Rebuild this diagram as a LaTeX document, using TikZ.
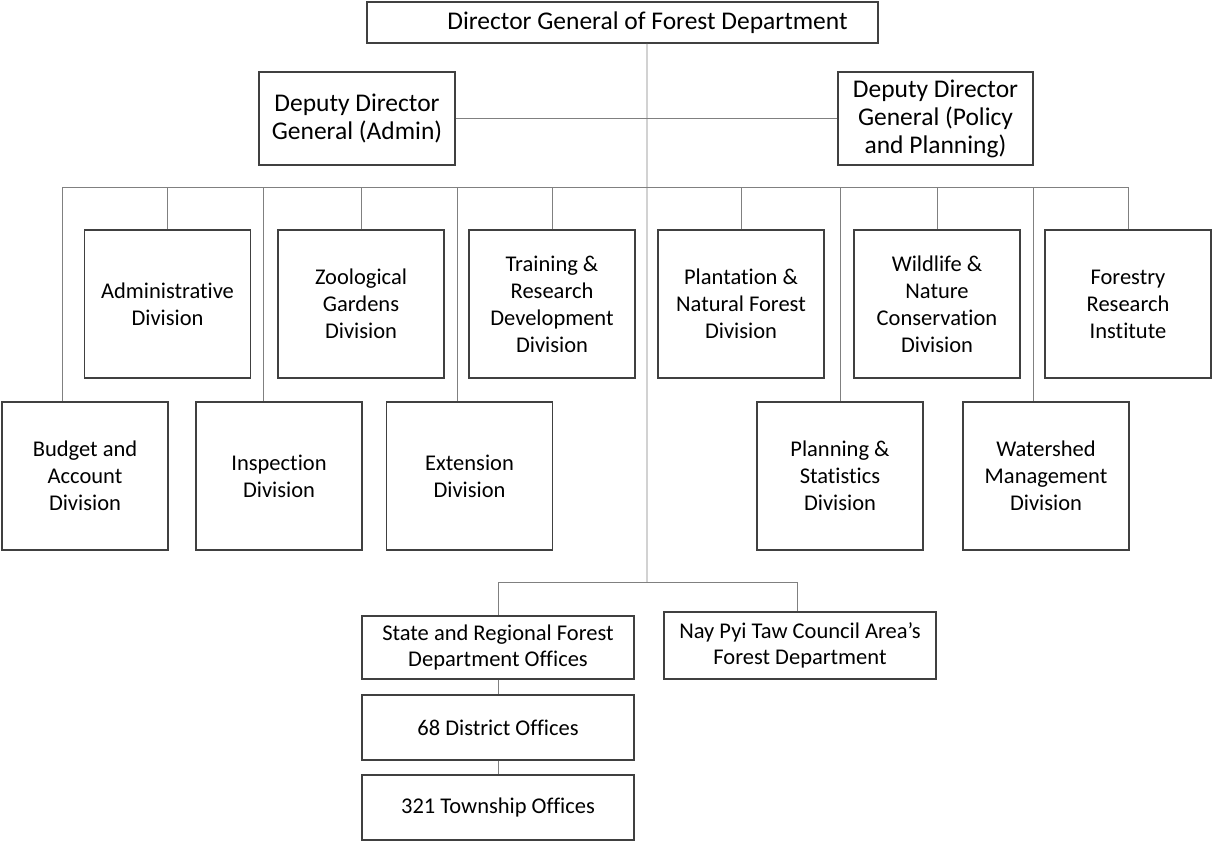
\documentclass[tikz,border=0pt]{standalone}
\usepackage{fontspec}
\setmainfont[Ligatures=NoCommon]{Carlito}
\begin{document}
\begin{tikzpicture}[x=1bp,y=-1bp,
  box/.style={draw=black!75, line width=1.3bp, fill=white, align=center, inner sep=0pt, text=black},
  div/.style={box, minimum width=166bp, minimum height=148bp, font=\fontsize{22.5bp}{27bp}\selectfont},
  low/.style={box, minimum width=272bp, font=\fontsize{22.5bp}{26bp}\selectfont},
  conn/.style={draw=black!50, line width=0.9bp}]
\useasboundingbox (0,0) rectangle (1212,842);
% top
\node[box, minimum width=511bp, minimum height=41bp, font=\fontsize{25.5bp}{27bp}\selectfont] (dg) at (622.5,22.5) {\hspace*{50bp}Director General of Forest Department};
\node[box, minimum width=196bp, minimum height=93bp, font=\fontsize{25.5bp}{28bp}\selectfont] (ddga) at (357,118.5) {Deputy Director\\General (Admin)};
\node[box, minimum width=195bp, minimum height=93bp, font=\fontsize{25.5bp}{28bp}\selectfont] (ddgp) at (935.5,118.5) {Deputy Director\\General (Policy\\and Planning)};
% upper row
\node[div] (adm) at (167.5,304) {Administrative\\Division};
\node[div] (zoo) at (361,304) {Zoological\\Gardens\\Division};
\node[div] (trn) at (552,304) {Training \&\\Research\\Development\\Division};
\node[div] (pla) at (741,304) {Plantation \&\\Natural Forest\\Division};
\node[div] (wil) at (937,304) {Wildlife \&\\Nature\\Conservation\\Division};
\node[div] (for) at (1128,304) {Forestry\\Research\\Institute};
% lower row
\node[div] (bud) at (85,476) {Budget and\\Account\\Division};
\node[div] (ins) at (279,476) {Inspection\\Division};
\node[div] (ext) at (469.5,476) {Extension\\Division};
\node[div] (pln) at (840,476) {Planning \&\\Statistics\\Division};
\node[div] (wat) at (1046,476) {Watershed\\Management\\Division};
% bottom
\node[low, minimum height=63bp] (st) at (498,647.5) {State and Regional Forest\\Department Offices};
\node[low, minimum height=67bp] (nay) at (800,645.5) {Nay Pyi Taw Council Area’s\\Forest Department};
\node[low, minimum height=65bp] (dis) at (498,727.5) {68 District Offices};
\node[low, minimum height=65bp] (tow) at (498,807.5) {321 Township Offices};
% coordinates
\coordinate (busL) at (62,187);
\coordinate (busR) at (1128,187);
\coordinate (b2L) at (498,582);
\coordinate (b2R) at (797,582);
\coordinate (d1) at (62,187);
\coordinate (d3) at (263,187);
\coordinate (d5) at (457,187);
\coordinate (d9) at (840,187);
\coordinate (d11) at (1033,187);
\coordinate (b2) at (647,582);
% connectors
\draw[conn] ([xshift=24.5bp]dg.south) -- (b2);
\draw[conn] (ddga.east) -- (ddgp.west);
\draw[conn] (busL) -- (busR);
\draw[conn] (adm.north) -- (adm.north |- busL);
\draw[conn] (zoo.north) -- (zoo.north |- busL);
\draw[conn] (trn.north) -- (trn.north |- busL);
\draw[conn] (pla.north) -- (pla.north |- busL);
\draw[conn] (wil.north) -- (wil.north |- busL);
\draw[conn] (for.north) -- (for.north |- busL);
\draw[conn] (d1) -- (d1 |- bud.north);
\draw[conn] (d3) -- (d3 |- ins.north);
\draw[conn] (d5) -- (d5 |- ext.north);
\draw[conn] (d9) -- (d9 |- pln.north);
\draw[conn] (d11) -- (d11 |- wat.north);
\draw[conn] (b2L) -- (b2R);
\draw[conn] (b2L) -- (st.north);
\draw[conn] (b2R) -- (b2R |- nay.north);
\draw[conn] (st.south) -- (dis.north);
\draw[conn] (dis.south) -- (tow.north);
\end{tikzpicture}
\end{document}
